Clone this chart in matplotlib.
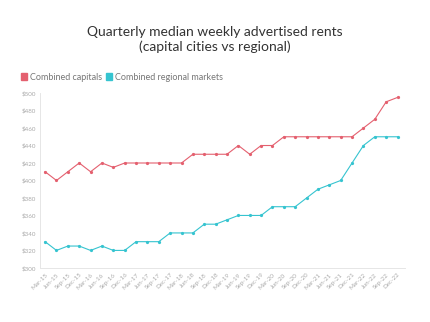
import matplotlib
matplotlib.use('Agg')
import matplotlib.pyplot as plt

quarters = ['Mar-15', 'Jun-15', 'Sep-15', 'Dec-15', 'Mar-16', 'Jun-16', 'Sep-16', 'Dec-16',
            'Mar-17', 'Jun-17', 'Sep-17', 'Dec-17', 'Mar-18', 'Jun-18', 'Sep-18', 'Dec-18',
            'Mar-19', 'Jun-19', 'Sep-19', 'Dec-19', 'Mar-20', 'Jun-20', 'Sep-20', 'Dec-20',
            'Mar-21', 'Jun-21', 'Sep-21', 'Dec-21', 'Mar-22', 'Jun-22', 'Sep-22', 'Dec-22']

capitals = [410, 400, 410, 420, 410, 420, 415, 420,
            420, 420, 420, 420, 420, 430, 430, 430,
            430, 440, 430, 440, 440, 450, 450, 450,
            450, 450, 450, 450, 460, 470, 490, 495]

regional = [330, 320, 325, 325, 320, 325, 320, 320,
            330, 330, 330, 340, 340, 340, 350, 350,
            355, 360, 360, 360, 370, 370, 370, 380,
            390, 395, 400, 420, 440, 450, 450, 450]

yticks = list(range(300, 501, 20))

red = '#e4606f'
teal = '#36c4d0'
grey = '#bbbbbb'

plt.rcParams['font.family'] = ['Lato', 'DejaVu Sans']

fig = plt.figure(figsize=(4.3, 3.22), dpi=100)
ax = fig.add_axes([0.093, 0.168, 0.85, 0.543])

x = list(range(len(quarters)))
ax.plot(x, capitals, color=red, lw=0.8, marker='o', ms=1.3, label='Combined capitals')
ax.plot(x, regional, color=teal, lw=0.8, marker='o', ms=1.3, label='Combined regional markets')

ax.set_xlim(-0.45, 31.7)
ax.set_ylim(300, 500)
ax.set_yticks(yticks)
ax.set_yticklabels(['$%d' % v for v in yticks])
ax.set_xticks(x)
ax.set_xticklabels(quarters, rotation=45, ha='right', rotation_mode='anchor')
ax.tick_params(axis='both', colors=grey, labelsize=4.5, length=0, pad=3)
ax.tick_params(axis='y', labelcolor='#aaaaaa')
ax.tick_params(axis='x', labelcolor='#aaaaaa')

for s in ['top', 'right']:
    ax.spines[s].set_visible(False)
for s in ['left', 'bottom']:
    ax.spines[s].set_color('#e6e6e6')
    ax.spines[s].set_linewidth(0.7)

fig.text(0.5, 0.877, 'Quarterly median weekly advertised rents\n(capital cities vs regional)',
         ha='center', va='center', fontsize=10, color='#333333', linespacing=1.2)

fig.legend(loc='upper left', bbox_to_anchor=(0.03, 0.8), ncol=2, frameon=False,
           fontsize=6.5, handlelength=0.7, handleheight=0.9, handletextpad=0.3,
           columnspacing=0.4, labelcolor='#777777',
           handles=[plt.Rectangle((0, 0), 1, 1, color=red),
                    plt.Rectangle((0, 0), 1, 1, color=teal)],
           labels=['Combined capitals', 'Combined regional markets'])

fig.savefig('out.png', dpi=100)
